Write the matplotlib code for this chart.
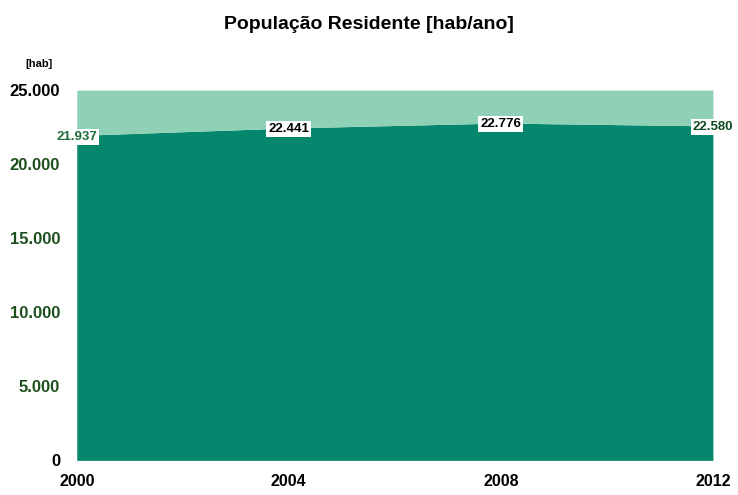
"""
População Residente - stacked area, residents per year
"""

import matplotlib.pyplot as plt

plt.rcParams["font.family"] = ["Liberation Sans", "DejaVu Sans"]

# Data
years = [2000, 2004, 2008, 2012]
residents = [21937, 22441, 22776, 22580]
upper_band = [25000, 25000, 25000, 25000]
y_ticks = [0, 5000, 10000, 15000, 20000, 25000]
y_tick_labels = ["0", "5.000", "10.000", "15.000", "20.000", "25.000"]
x_tick_labels = ["2000", "2004", "2008", "2012"]

dark_green = "#05876d"
light_green = "#8fd1b6"


def fmt(v):
    return f"{v:,}".replace(",", ".")


fig = plt.figure(figsize=(7.38, 4.95), dpi=100)
ax = fig.add_axes([0.104, 0.07, 0.862, 0.748])

ax.fill_between(years, 0, residents, color=dark_green, linewidth=0)
ax.fill_between(years, residents, upper_band, color=light_green, linewidth=0)

ax.set_xlim(years[0], years[-1])
ax.set_ylim(0, 25000)

for side in ["top", "right", "left", "bottom"]:
    ax.spines[side].set_visible(False)

ax.set_yticks(y_ticks)
ax.set_yticklabels(y_tick_labels, fontsize=12, fontweight="bold")
for lbl, col in zip(ax.get_yticklabels(), ["black", "#1d4f1d", "#1d4f1d",
                                            "#1d4f1d", "#1d4f1d", "black"]):
    lbl.set_color(col)
ax.set_xticks(years)
ax.set_xticklabels(x_tick_labels, fontsize=11.5, fontweight="bold")
ax.tick_params(length=0, pad=10)
ax.tick_params(axis="y", pad=12)

# Data labels on the resident series
label_colors = ["#1e6b3c", "black", "black", "#0e4a22"]
for x, v, c in zip(years, residents, label_colors):
    ax.text(x, v - 80, fmt(v), ha="center", va="center", fontsize=9.5,
            fontweight="bold", color=c,
            bbox=dict(boxstyle="square,pad=0.15", fc="white", ec="none"))

ax.text(-0.06, 1.07, "[hab]", transform=ax.transAxes, fontsize=8,
        fontweight="bold", ha="center", va="center")

fig.suptitle("População Residente [hab/ano]", x=0.5, y=0.968,
             fontsize=14, fontweight="bold")

fig.savefig("out.png", dpi=100)
